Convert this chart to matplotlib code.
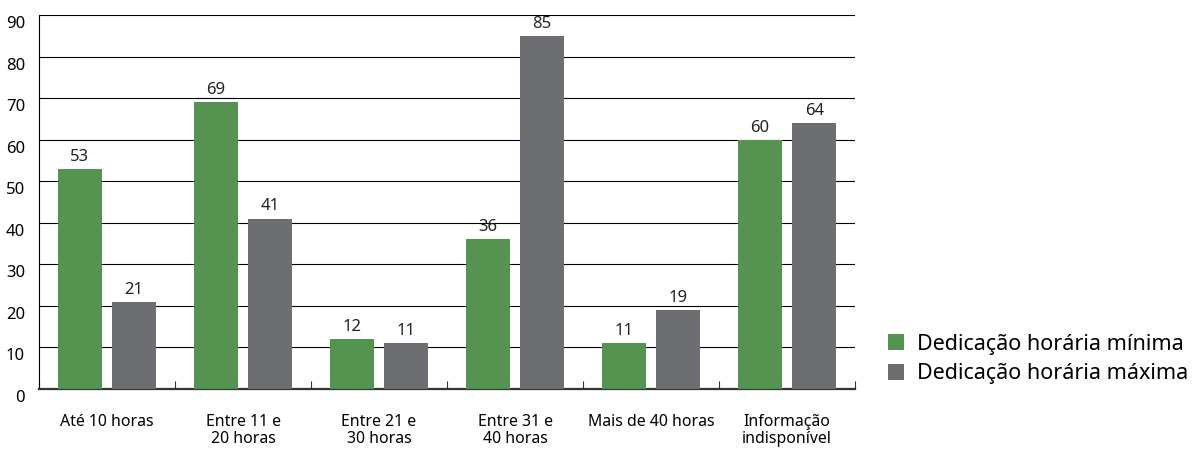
import numpy as np
import matplotlib.pyplot as plt
import matplotlib.transforms as mtransforms

plt.rcParams['font.family'] = ['Noto Sans', 'DejaVu Sans']

categorias = ['Até 10 horas', 'Entre 11 e\n20 horas', 'Entre 21 e\n30 horas',
              'Entre 31 e\n40 horas', 'Mais de 40 horas', 'Informação\nindisponível']
minima = [53, 69, 12, 36, 11, 60]
maxima = [21, 41, 11, 85, 19, 64]
series_nomes = ['Dedicação horária mínima', 'Dedicação horária máxima']

verde = '#559350'
cinza = '#6d6e71'

fig = plt.figure(figsize=(11.92, 4.49), dpi=100)
ax = fig.add_axes([39/1192, 1-389/449, 816/1192, 374/449])

x = np.arange(len(categorias))
w = 0.32
b1 = ax.bar(x - 0.2, minima, w, color=verde, label=series_nomes[0], zorder=3)
b2 = ax.bar(x + 0.2, maxima, w, color=cinza, label=series_nomes[1], zorder=3)

for bars in (b1, b2):
    for r in bars:
        ax.text(r.get_x() + r.get_width()/2, r.get_height() + 1.0, str(int(r.get_height())),
                ha='center', va='bottom', fontsize=12, color='#222222')

ax.set_xlim(-0.5, len(categorias) - 0.5)
ax.set_ylim(0, 90)
ax.set_yticks(range(0, 91, 10))
ax.yaxis.grid(True, color='black', linewidth=0.8, zorder=0)
ax.tick_params(axis='y', length=0, pad=10, labelsize=12)
# y labels sit a little below their grid lines in the original
off = mtransforms.ScaledTranslation(0, -5/72, fig.dpi_scale_trans)
for lab in ax.get_yticklabels():
    lab.set_transform(lab.get_transform() + off)

ax.set_xticks(x)
ax.set_xticklabels(categorias, fontsize=11.4, linespacing=1.12)
ax.tick_params(axis='x', length=0, pad=18)
ax.set_xticks(np.arange(-0.5, len(categorias)), minor=True)
ax.tick_params(axis='x', which='minor', direction='in', length=6, width=0.8, color='#333333')

for s in ['top', 'right']:
    ax.spines[s].set_visible(False)
ax.spines['left'].set_linewidth(0.8)
ax.spines['bottom'].set_linewidth(1.6)
ax.spines['bottom'].set_color('#333333')

fig.legend(handles=[b1, b2], loc='upper left', bbox_to_anchor=(879/1192, 1-325/449),
           frameon=False, fontsize=15.5, handlelength=0.75, handleheight=0.75,
           handletextpad=0.6, labelspacing=0.4, borderaxespad=0)

fig.savefig('out.png', dpi=100)
